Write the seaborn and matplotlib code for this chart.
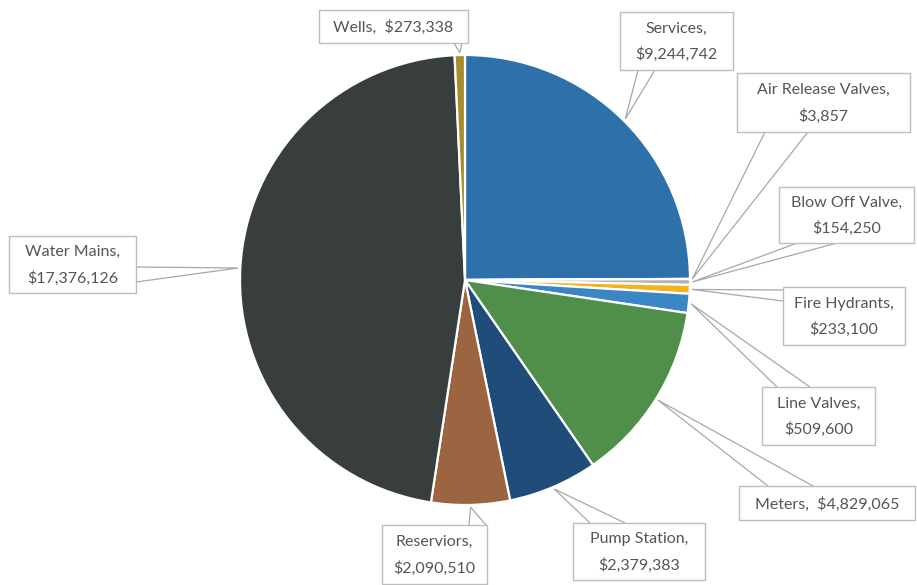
import matplotlib
matplotlib.use("Agg")
import matplotlib.pyplot as plt
from matplotlib.patches import Rectangle
import numpy as np
import seaborn as sns

# Asset categories and their replacement costs (dollars)
categories = ["Services", "Air Release Valves", "Blow Off Valve", "Fire Hydrants",
              "Line Valves", "Meters", "Pump Station", "Reserviors",
              "Water Mains", "Wells"]
costs = [9244742, 3857, 154250, 233100, 509600, 4829065, 2379383, 2090510,
         17376126, 273338]
# separator between name and value in each callout
separators = [",\n", ",\n", ",\n", ",\n", ",\n", ",  ", ",\n", ",\n", ",\n", ",  "]

colors = ["#2d70aa", "#e07b30", "#b3b3b3", "#f0b41c", "#3b86c4",
          "#4f8f49", "#1f4c78", "#9a6540", "#383e3e", "#a68c2c"]

# callout boxes (x0, y0, x1, y1) and pointer base points, in pixel space
boxes = [(620, 12, 733, 70), (737, 73, 910, 132), (779, 187, 914, 243),
         (783, 287, 905, 345), (762, 387, 875, 445), (739, 486, 915, 520),
         (573, 523, 705, 580), (382, 525, 487, 584), (9, 236, 136, 293),
         (319, 10, 468, 43)]
bases = [((638, 70), (655, 70)), ((765, 132), (808, 132)),
         ((797, 243), (837, 243)), ((783, 290), (783, 301)),
         ((777, 387), (810, 387)), ((768, 486), (813, 486)),
         ((590, 523), (625, 523)), ((469, 525), (486, 525)),
         ((136, 267), (136, 282)), ((454, 43), (462, 43))]

W, H = 917, 585
cx, cy, r = 465, 280, 225

sns.set_theme(style="white")
plt.rcParams["font.family"] = ["Lato", "DejaVu Sans"]

fig = plt.figure(figsize=(W / 100, H / 100), dpi=100)
ax = fig.add_axes([0, 0, 1, 1])

# y axis points down, so counterclockwise in data space is clockwise on screen
ax.pie(costs, colors=colors, center=(cx, cy), radius=r, startangle=-90,
       counterclock=True,
       wedgeprops=dict(edgecolor="white", linewidth=1.6))
ax.set_xlim(0, W)
ax.set_ylim(H, 0)
ax.set_aspect("equal")
ax.axis("off")

total = float(np.sum(costs))
cum = np.cumsum([0] + costs[:-1]) / total
fracs = np.array(costs) / total
mid = np.deg2rad(-90 + 360 * (cum + fracs / 2))

for i, name in enumerate(categories):
    tip = (cx + r * 1.01 * np.cos(mid[i]), cy + r * 1.01 * np.sin(mid[i]))
    (b1, b2) = bases[i]
    ax.plot([b1[0], tip[0], b2[0]], [b1[1], tip[1], b2[1]],
            color="#a8a8a8", lw=0.9, zorder=3, solid_joinstyle="miter")
    x0, y0, x1, y1 = boxes[i]
    ax.add_patch(Rectangle((x0, y0), x1 - x0, y1 - y0, facecolor="white",
                           edgecolor="#bdbdbd", lw=1.0, zorder=4))
    label = f"{name}{separators[i]}${costs[i]:,}"
    ax.text((x0 + x1) / 2, (y0 + y1) / 2 + 1, label, ha="center", va="center",
            fontsize=11.5, color="#555555", linespacing=1.95, zorder=5)

fig.savefig("out.png", dpi=100, facecolor="white")
